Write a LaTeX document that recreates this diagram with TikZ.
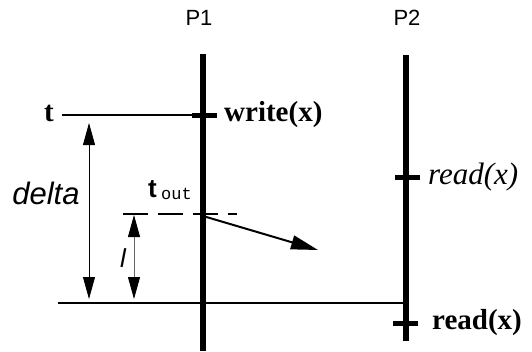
\documentclass[tikz,border=0pt]{standalone}
\usepackage{fontspec}
\setmainfont{Liberation Serif}
\setsansfont{Liberation Sans}
\setmonofont{Liberation Mono}
\usetikzlibrary{arrows.meta}
\begin{document}
\begin{tikzpicture}[x=1pt,y=-1pt,
  every node/.style={inner sep=0pt},
  proc/.style={line width=6pt},
  evtick/.style={line width=5pt},
  msg/.style={line width=2pt},
  span/.style={line width=0.8pt, {Triangle[length=22pt,width=12pt,black]}-{Triangle[length=22pt,width=12pt,black]}}]
\useasboundingbox (0,0) rectangle (532,351);
% processes
\node[font=\sffamily\fontsize{22}{22}\selectfont] (p1) at (199,18) {P1};
\node[font=\sffamily\fontsize{22}{22}\selectfont] (p2) at (407,18) {P2};
\coordinate (p1top) at (203,54);
\coordinate (p1bot) at (203,351);
\coordinate (p2top) at (406,55);
\coordinate (p2bot) at (406,341);
\draw[proc] (p1top) -- (p1bot);
\draw[proc] (p2top) -- (p2bot);
% events
\coordinate (ew) at (203,115);
\coordinate (er1) at (406,177);
\coordinate (er2) at (406,323);
\draw[evtick] (ew) ++(-11,0) -- ++(25,0);
\draw[evtick] (er1) ++(-11,0) -- ++(25,0);
\draw[evtick] (er2) ++(-13,0) -- ++(25,0);
\node[font=\bfseries\fontsize{29}{29}\selectfont, anchor=west] (write) at (224,115) {write(x)};
\node[font=\itshape\fontsize{31}{31}\selectfont, anchor=west] (read1) at (428,177) {read(x)};
\node[font=\bfseries\fontsize{29}{29}\selectfont, anchor=west] (read2) at (432,323) {read(x)};
% times
\node[font=\bfseries\fontsize{29}{29}\selectfont] (t) at (49,113) {t};
\coordinate (tend) at (62,115);
\draw[msg] (tend) -- (ew);
\node[font=\sffamily\bfseries\fontsize{26}{26}\selectfont, anchor=base west] (tout) at (148,197) {t\,{\ttfamily\mdseries\fontsize{17}{17}\selectfont\raisebox{-2pt}{out}}};
\coordinate (dl) at (123,214);
\coordinate (dr) at (237,214);
\draw[msg, dash pattern=on 25pt off 10pt] (dl) -- (dr);
\coordinate (bl) at (58,303);
\draw[msg] (bl) -- (er2 |- bl);
% send
\coordinate (sendfrom) at (203,216);
\coordinate (sendto) at (318,250);
\draw[msg, -{Triangle[length=27pt,width=14pt]}] (sendfrom) -- (sendto);
% intervals
\coordinate (da) at (89,123);
\coordinate (db) at (89,299);
\draw[span] (da) -- (db);
\node[font=\sffamily\itshape\fontsize{31}{31}\selectfont] (delta) at (46,193) {delta};
\coordinate (la) at (134,215);
\coordinate (lb) at (134,299);
\draw[span, draw=black!60] (la) -- (lb);
\node[font=\sffamily\itshape\fontsize{26}{26}\selectfont] (l) at (123,258) {l};
\end{tikzpicture}
\end{document}
